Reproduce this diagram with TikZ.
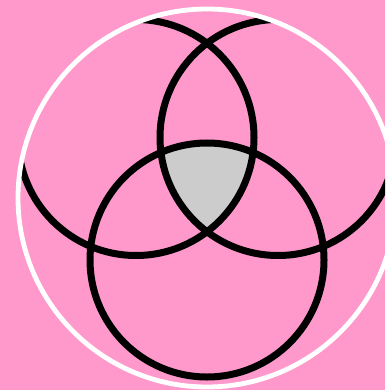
\documentclass[tikz,border=0pt]{standalone}
\usepackage{tikz}

\definecolor{bgpink}{RGB}{255,153,204}
\definecolor{lensgray}{RGB}{204,204,204}

\tikzset{
  ring/.style={black,line width=7pt},
  rim/.style={white,line width=4.8pt}
}

\begin{document}
\begin{tikzpicture}[x=1pt,y=-1pt]
\useasboundingbox (0,0) rectangle (385,390);
\fill[bgpink] (0,0) rectangle (385,390);
\coordinate (cL) at (136,137.5);
\coordinate (cR) at (278,137.5);
\coordinate (cB) at (207,260);
\coordinate (cO) at (207,198);
% triple overlap
\begin{scope}
\clip (cL) circle (118pt);
\clip (cR) circle (118pt);
\fill[lensgray] (cB) circle (118pt);
\end{scope}
% the three rings, cut at the rim
\begin{scope}
\clip (0,0) rectangle (385,390);
\clip (cO) circle (189pt);
\draw[ring] (cL) circle (118pt);
\draw[ring] (cR) circle (118pt);
\draw[ring] (cB) circle (117pt);
\end{scope}
\draw[rim] (cO) circle (189pt);
\end{tikzpicture}
\end{document}
